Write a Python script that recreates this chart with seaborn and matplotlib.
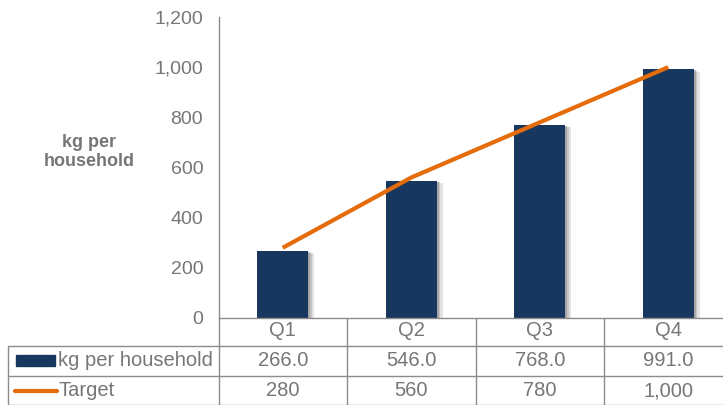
import numpy as np
import matplotlib
matplotlib.use("Agg")
import matplotlib.pyplot as plt
import matplotlib.patheffects as pe
from matplotlib.lines import Line2D
from matplotlib.patches import Rectangle
from matplotlib.transforms import blended_transform_factory
import seaborn as sns

# datos
quarters = ["Q1", "Q2", "Q3", "Q4"]
kg_per_household = [266.0, 546.0, 768.0, 991.0]
target = [280, 560, 780, 1000]
yticks = [0, 200, 400, 600, 800, 1000, 1200]

navy = "#17375E"
orange = "#E46C0A"
gray_txt = "#767676"
gray_line = "#8C8C8C"

sns.set_theme(style="white")
plt.rcParams["font.family"] = ["Liberation Sans", "DejaVu Sans"]

W, H = 723, 405
fig = plt.figure(figsize=(W / 100, H / 100), dpi=100)
# el área de trazado sigue más allá del borde derecho de la imagen
ax = fig.add_axes([218.5 / W, (H - 318) / H, 514 / W, (318 - 17) / H])

sns.barplot(x=quarters, y=kg_per_household, color=navy, width=0.4, ax=ax,
            saturation=1, linewidth=0)
# sombra suave a la derecha de cada barra
for bar in ax.patches:
    bar.set_path_effects([pe.SimplePatchShadow(offset=(4, -1.5), shadow_rgbFace="#b0b0b0", alpha=0.35),
                          pe.SimplePatchShadow(offset=(2.5, -1), shadow_rgbFace="#999999", alpha=0.4),
                          pe.SimplePatchShadow(offset=(1.2, -0.5), shadow_rgbFace="#888888", alpha=0.5),
                          pe.Normal()])
ax.plot(np.arange(len(target)), target, color=orange, lw=3, solid_capstyle="butt", zorder=5)

ax.set_xlim(-0.5, 3.5)
ax.set_ylim(0, 1200)
ax.set_yticks(yticks)
ax.set_yticklabels([f"{v:,}" for v in yticks], color=gray_txt, fontsize=14)
ax.tick_params(axis="y", length=0, pad=11)
ax.set_xticks([])
ax.set_xlabel("")
for s in ["top", "right", "bottom"]:
    ax.spines[s].set_visible(False)
ax.spines["left"].set_color(gray_line)
ax.spines["left"].set_linewidth(1)

fig.text(89 / W, 1 - 152 / H, "kg per\nhousehold", ha="center", va="center",
         fontsize=13, fontweight="bold", color=gray_txt, linespacing=1.1)

# tabla de datos
tr = blended_transform_factory(ax.transData, fig.transFigure)
ftr = fig.transFigure

def fy(py):
    return 1 - py / H

def hline(x0, x1, py, trans):
    fig.add_artist(Line2D([x0, x1], [fy(py), fy(py)], transform=trans, color=gray_line, lw=1))

def vline(x, py0, py1, trans):
    fig.add_artist(Line2D([x, x], [fy(py0), fy(py1)], transform=trans, color=gray_line, lw=1))

rows = [318, 346, 376, 405]
hline(-0.5, 3.5, rows[0], tr)
for py in rows[1:]:
    hline(8 / W, 1.0, py, ftr)
for i in range(4):
    vline(i - 0.5, rows[0], rows[3], tr)
vline(8 / W, rows[1], rows[3], ftr)

for i, q in enumerate(quarters):
    fig.text(i, fy(331), q, transform=tr, ha="center", va="center", fontsize=14.5, color=gray_txt)
    fig.text(i, fy(361), f"{kg_per_household[i]:.1f}", transform=tr, ha="center", va="center",
             fontsize=14.5, color=gray_txt)
    fig.text(i, fy(391), f"{target[i]:,}", transform=tr, ha="center", va="center",
             fontsize=14.5, color=gray_txt)

fig.add_artist(Rectangle((16 / W, fy(366)), 39 / W, 11 / H, transform=ftr, color=navy))
fig.add_artist(Line2D([15 / W, 57 / W], [fy(391), fy(391)], transform=ftr, color=orange, lw=3))
fig.text(58 / W, fy(361), "kg per household", ha="left", va="center", fontsize=14.5, color=gray_txt)
fig.text(58 / W, fy(391), "Target", ha="left", va="center", fontsize=14.5, color=gray_txt)

fig.savefig("out.png", dpi=100)
